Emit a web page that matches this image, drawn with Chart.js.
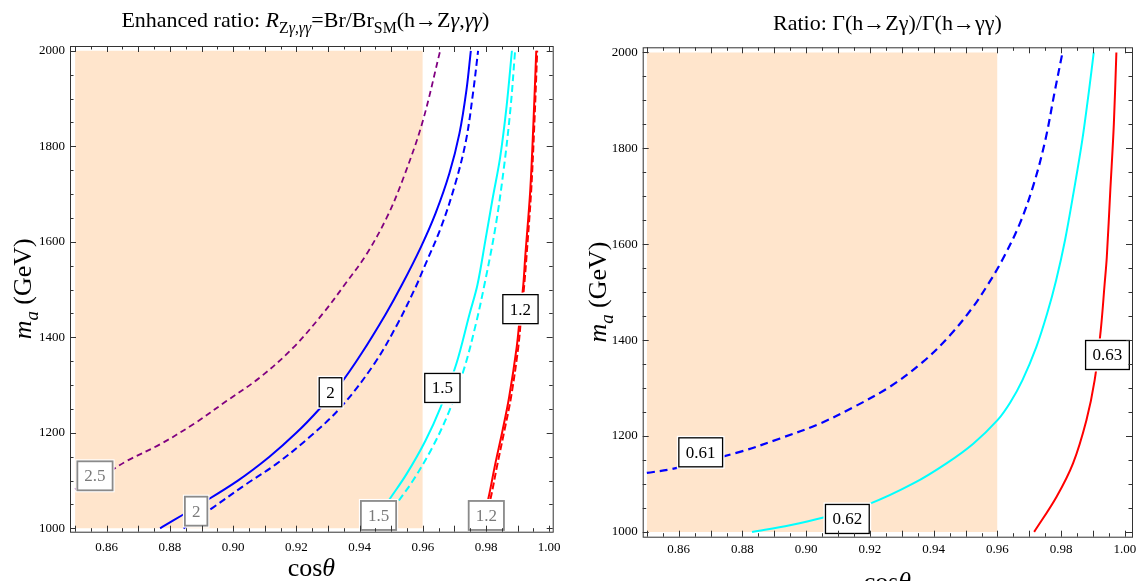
<!DOCTYPE html>
<html>
<head>
<meta charset="utf-8">
<script src="https://cdn.jsdelivr.net/npm/chart.js@4.4.1/dist/chart.umd.min.js"></script>
<style>
  html, body { margin: 0; padding: 0; background: #fff; }
  #wrap { position: relative; width: 1140px; height: 581px; overflow: hidden; }
  canvas { position: absolute; top: 0; }
</style>
</head>
<body>
<div id="wrap">
  <canvas id="chart_0" width="570" height="581" style="left:0px"></canvas>
  <canvas id="chart_1" width="570" height="581" style="left:570px"></canvas>
</div>
<script>
// ---- data (cos theta, m_a in GeV) ----
var xTicks = [0.86, 0.88, 0.90, 0.92, 0.94, 0.96, 0.98, 1.00];
var xTickLabels = ["0.86", "0.88", "0.90", "0.92", "0.94", "0.96", "0.98", "1.00"];
var yTicks = [1000, 1200, 1400, 1600, 1800, 2000];
var yTickLabels = ["1000", "1200", "1400", "1600", "1800", "2000"];

// excluded region (shaded)
var shadeX = [0.85, 0.96];
var shadeY = [1000, 2000];

// left panel: R = 2.5, 2, 1.5, 1.2 (solid = Z gamma, dashed = gamma gamma)
var r25dash = [[0.8500,1082],[0.8611,1120],[0.8663,1141],[0.8769,1176],[0.8874,1218],[0.8980,1267],[0.9085,1316],[0.9191,1379],[0.9283,1449],[0.9355,1512],[0.9423,1575],[0.9487,1652],[0.9536,1729],[0.9598,1848],[0.9655,2000]];
var r2solid = [[0.8769,1000],[0.8895,1050],[0.9015,1100],[0.9115,1150],[0.9200,1200],[0.9273,1250],[0.9337,1300],[0.9405,1365],[0.9483,1449],[0.9534,1510],[0.9594,1589],[0.9640,1659],[0.9684,1743],[0.9716,1827],[0.9738,1917],[0.9752,2000]];
var r2dash = [[0.8843,1000],[0.8935,1043],[0.9040,1092],[0.9135,1134],[0.9240,1190],[0.9340,1253],[0.9446,1344],[0.9520,1428],[0.9578,1506],[0.9600,1540],[0.9658,1631],[0.9703,1722],[0.9737,1813],[0.9760,1917],[0.9775,2000]];
var r15solid = [[0.9435,1000],[0.9495,1061],[0.9548,1113],[0.9608,1183],[0.9656,1253],[0.9706,1344],[0.9748,1449],[0.9773,1510],[0.9798,1603],[0.9820,1687],[0.9845,1778],[0.9865,1883],[0.9882,2000]];
var r15dash = [[0.9468,1000],[0.9520,1054],[0.9568,1099],[0.9630,1169],[0.9684,1246],[0.9732,1337],[0.9768,1428],[0.9795,1510],[0.9830,1631],[0.9857,1757],[0.9878,1883],[0.9892,2000]];
var r12solid = [[0.9785,1000],[0.9808,1064],[0.9829,1134],[0.9852,1204],[0.9873,1274],[0.9897,1379],[0.9908,1449],[0.9918,1510],[0.9924,1568],[0.9940,1708],[0.9950,1848],[0.9959,2000]];
var r12dash = [[0.9792,1000],[0.9815,1064],[0.9836,1134],[0.9858,1204],[0.9879,1274],[0.9902,1379],[0.9912,1449],[0.9921,1510],[0.9928,1568],[0.9943,1708],[0.9953,1848],[0.9962,2000]];

// right panel: Gamma(Z gamma)/Gamma(gamma gamma) = 0.61, 0.62, 0.63
var g061 = [[0.8500,1123],[0.8584,1132],[0.8792,1167],[0.8918,1195],[0.9043,1226],[0.9148,1260],[0.9263,1303],[0.9367,1355],[0.9451,1410],[0.9524,1470],[0.9570,1516],[0.9615,1567],[0.9670,1643],[0.9714,1726],[0.9750,1817],[0.9780,1920],[0.9804,2000]];
var g062 = [[0.8830,1000],[0.8949,1014],[0.9054,1030],[0.9200,1059],[0.9336,1101],[0.9440,1143],[0.9524,1184],[0.9600,1233],[0.9640,1270],[0.9678,1316],[0.9722,1386],[0.9756,1456],[0.9784,1525],[0.9812,1609],[0.9840,1713],[0.9866,1817],[0.9887,1920],[0.9902,2000]];
var g063 = [[0.9715,1000],[0.9785,1073],[0.9837,1143],[0.9879,1233],[0.9905,1317],[0.9924,1421],[0.9936,1516],[0.9943,1574],[0.9954,1713],[0.9965,1850],[0.9973,2000]];

// contour labels: [x, y, text, gray?]
var leftLabels = [[0.8563,1110,"2.5",true],[0.8883,1036,"2",true],[0.9460,1027,"1.5",true],[0.9801,1027,"1.2",true],
                  [0.9308,1285,"2",false],[0.9662,1294,"1.5",false],[0.9909,1459,"1.2",false]];
var rightLabels = [[0.8669,1166,"0.61",false],[0.9129,1027,"0.62",false],[0.9945,1369,"0.63",false]];

var SERIF = '"Liberation Serif", "Times New Roman", "DejaVu Serif", serif';

function pts(arr) { return arr.map(function (p) { return {x: p[0], y: p[1]}; }); }

function curve(arr, color, dash, w) {
  return {
    data: pts(arr), borderColor: color, borderWidth: w || 2,
    borderDash: dash || [], pointRadius: 0, fill: false,
    tension: 0.35, order: 0
  };
}

function shade() {
  return {
    data: [{x: shadeX[0], y: shadeY[1]}, {x: shadeX[1], y: shadeY[1]}],
    borderWidth: 0, borderColor: 'rgba(0,0,0,0)', pointRadius: 0,
    backgroundColor: '#FFE5CC', fill: {value: shadeY[0]}, order: 10
  };
}

// draws a line of mixed text: segs = [[text, italic, sub]]
function richText(ctx, segs, x, y, size, color) {
  function font(s) { return (s[1] ? 'italic ' : '') + (s[2] ? size * 0.72 : size) + 'px ' + SERIF; }
  var total = 0;
  segs.forEach(function (s) { ctx.font = font(s); total += ctx.measureText(s[0]).width; });
  var cx = x - total / 2;
  ctx.fillStyle = color || '#000';
  ctx.textAlign = 'left';
  ctx.textBaseline = 'alphabetic';
  segs.forEach(function (s) {
    ctx.font = font(s);
    ctx.fillText(s[0], cx, y + (s[2] ? size * 0.28 : 0));
    cx += ctx.measureText(s[0]).width;
  });
}

function decor(cfg) {
  return {
    id: 'decor',
    afterDatasetsDraw: function (chart) {
      var ctx = chart.ctx, xs = chart.scales.x, ys = chart.scales.y;
      ctx.save();
      cfg.labels.forEach(function (l) {
        var px = xs.getPixelForValue(l[0]), py = ys.getPixelForValue(l[1]);
        ctx.font = '17px ' + SERIF;
        var w = ctx.measureText(l[2]).width + 14, h = 29;
        ctx.fillStyle = '#fff';
        ctx.fillRect(px - w / 2 - 2, py - h / 2 - 2, w + 4, h + 4);
        ctx.strokeStyle = l[3] ? '#8a8a8a' : '#000';
        ctx.lineWidth = l[3] ? 1.8 : 1.3;
        ctx.strokeRect(px - w / 2, py - h / 2, w, h);
        ctx.fillStyle = l[3] ? '#7a7a7a' : '#000';
        ctx.textAlign = 'center';
        ctx.textBaseline = 'middle';
        ctx.fillText(l[2], px, py + 1);
      });
      ctx.restore();
    },
    afterDraw: function (chart) {
      var ctx = chart.ctx, a = chart.chartArea, xs = chart.scales.x, ys = chart.scales.y;
      ctx.save();
      ctx.strokeStyle = '#333';
      ctx.lineWidth = 1;
      ctx.strokeRect(a.left + 0.5, a.top + 0.5, a.right - a.left, a.bottom - a.top);
      // ticks on all four sides, pointing in
      ctx.beginPath();
      for (var i = 0; i <= 30; i++) {
        var v = 0.85 + i * 0.005, px = Math.round(xs.getPixelForValue(v)) + 0.5;
        var len = (i % 2 === 0) ? 6 : 3.5;
        ctx.moveTo(px, a.bottom); ctx.lineTo(px, a.bottom - len);
        ctx.moveTo(px, a.top); ctx.lineTo(px, a.top + len);
      }
      for (var j = 0; j <= 20; j++) {
        var m = 1000 + j * 50, py = Math.round(ys.getPixelForValue(m)) + 0.5;
        var ln = (j % 4 === 0) ? 6 : 3.5;
        ctx.moveTo(a.left, py); ctx.lineTo(a.left + ln, py);
        ctx.moveTo(a.right, py); ctx.lineTo(a.right - ln, py);
      }
      ctx.stroke();
      // tick labels
      ctx.fillStyle = '#000';
      ctx.font = '13px ' + SERIF;
      ctx.textAlign = 'center';
      ctx.textBaseline = 'middle';
      xTicks.forEach(function (v, k) {
        ctx.fillText(xTickLabels[k], xs.getPixelForValue(v), a.bottom + cfg.xLabOff);
      });
      ctx.textAlign = 'right';
      yTicks.forEach(function (v, k) {
        ctx.fillText(yTickLabels[k], a.left - 5, ys.getPixelForValue(v));
      });
      // titles
      var cxp = (a.left + a.right) / 2;
      richText(ctx, cfg.title, cxp + cfg.titleDx, cfg.titleY, 22);
      richText(ctx, [["cos", false, false], ["\u03b8", true, false]], cxp, cfg.xTitleY, 26);
      ctx.save();
      ctx.translate(cfg.yTitleX, (a.top + a.bottom) / 2);
      ctx.rotate(-Math.PI / 2);
      richText(ctx, [["m", true, false], ["a", true, true], [" (GeV)", false, false]], 0, 0, 26);
      ctx.restore();
      ctx.restore();
    }
  };
}

function makeChart(id, datasets, xr, yr, pad, cfg) {
  return new Chart(id, {
    type: 'line',
    data: {datasets: datasets},
    options: {
      responsive: false, animation: false, devicePixelRatio: 1,
      layout: {padding: pad},
      plugins: {legend: {display: false}, tooltip: {enabled: false}, title: {display: false}},
      scales: {
        x: {type: 'linear', min: xr[0], max: xr[1], display: false},
        y: {type: 'linear', min: yr[0], max: yr[1], display: false}
      }
    },
    plugins: [decor(cfg)]
  });
}

var PURPLE = 'rgb(128,0,128)', BLUE = 'rgb(0,0,255)', CYAN = 'rgb(0,255,255)', RED = 'rgb(255,0,0)';

makeChart('chart_0', [
  curve(r25dash, PURPLE, [6, 4], 1.8),
  curve(r2solid, BLUE, [], 2),
  curve(r2dash, BLUE, [7, 4], 2),
  curve(r15solid, CYAN, [], 2),
  curve(r15dash, CYAN, [7, 4], 2),
  curve(r12solid, RED, [], 2),
  curve(r12dash, RED, [7, 3], 2),
  shade()
], [0.8484, 1.0011], [993, 2010], {left: 70, right: 17.3, top: 46, bottom: 49.3}, {
  labels: leftLabels,
  title: [["Enhanced ratio: ", false, false], ["R", true, false], ["Z", false, true], ["\u03b3", true, true], [",", false, true], ["\u03b3\u03b3", true, true],
          ["=Br/Br", false, false], ["SM", false, true], ["(h\u2192Z", false, false], ["\u03b3", true, false], [",", false, false], ["\u03b3\u03b3", true, false], [")", false, false]],
  titleDx: -6, titleY: 27, xTitleY: 576, yTitleX: 31, xLabOff: 16
});

makeChart('chart_1', [
  curve(g061, BLUE, [8, 5], 2.2),
  curve(g062, CYAN, [], 2),
  curve(g063, RED, [], 2),
  shade()
], [0.8487, 1.0022], [990, 2010.8], {left: 72.7, right: 8, top: 47.3, bottom: 44.3}, {
  labels: rightLabels,
  title: [["Ratio: \u0393(h\u2192Z\u03b3)/\u0393(h\u2192\u03b3\u03b3)", false, false]],
  titleDx: 0, titleY: 30, xTitleY: 590, yTitleX: 36, xLabOff: 13
});
</script>
</body>
</html>
